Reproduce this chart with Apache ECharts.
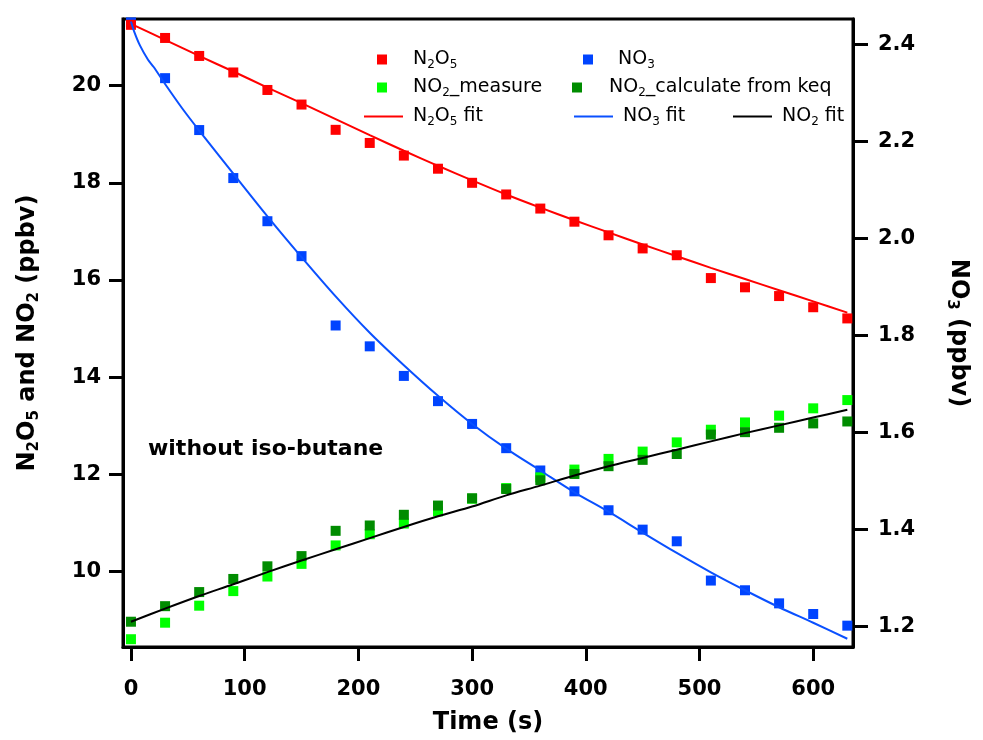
<!DOCTYPE html>
<html><head><meta charset="utf-8">
<script src="https://cdn.jsdelivr.net/npm/echarts@6/dist/echarts.min.js"></script>
<style>html,body{margin:0;padding:0;background:#fff}#c{width:983px;height:740px}</style>
</head><body><div id="c"></div>
<script>
// ---- data ----
const time = [0,30,60,90,120,150,180,210,240,270,300,330,360,390,420,450,480,510,540,570,600,630];
const n2o5 = [21.25,20.98,20.61,20.27,19.91,19.61,19.09,18.82,18.56,18.29,18.00,17.76,17.47,17.20,16.92,16.65,16.51,16.04,15.85,15.67,15.44,15.21];
const no3 = [2.445,2.330,2.223,2.124,2.035,1.963,1.820,1.777,1.716,1.664,1.617,1.567,1.521,1.478,1.439,1.399,1.375,1.294,1.274,1.247,1.225,1.201];
const no2Measure = [8.61,8.95,9.30,9.60,9.90,10.16,10.54,10.77,10.99,11.24,11.50,11.72,11.94,12.10,12.32,12.47,12.66,12.92,13.07,13.21,13.36,13.53];
const no2Calc = [8.97,9.29,9.58,9.85,10.11,10.32,10.84,10.95,11.17,11.36,11.51,11.70,11.88,12.01,12.17,12.30,12.42,12.82,12.87,12.96,13.05,13.09];

const fitTime = [0,30,60,90,120,150,180,210,240,270,300,330,360,390,420,450,480,510,540,570,600,630];
const n2o5Fit = [21.27,20.94,20.61,20.29,19.96,19.64,19.31,18.98,18.66,18.35,18.05,17.76,17.49,17.23,16.98,16.73,16.49,16.25,16.02,15.79,15.56,15.33];
const no2Fit = [8.97,9.24,9.50,9.74,9.99,10.23,10.46,10.69,10.92,11.14,11.34,11.57,11.77,11.98,12.17,12.34,12.51,12.68,12.85,13.01,13.17,13.33];
const no3FitTime = [0,3,8,15,20,30,45,60,90,120,150,180,210,240,270,300,330,360,390,420,450,480,510,540,570,600,630];
const no3Fit = [2.447,2.425,2.397,2.368,2.353,2.318,2.268,2.222,2.133,2.045,1.961,1.880,1.805,1.738,1.675,1.617,1.566,1.521,1.476,1.436,1.393,1.351,1.311,1.274,1.239,1.207,1.174];

const xTicks = [0,100,200,300,400,500,600];
const leftTicks = [10,12,14,16,18,20];
const rightTicks = [1.2,1.4,1.6,1.8,2.0,2.2,2.4];

// ---- chart ----
const FONT = 'DejaVu Sans';
const pairs = (xs, ys) => xs.map((x, i) => [x, ys[i]]);
const subRich = (size, bold) => ({
  a: {fontFamily: FONT, fontSize: size, fontWeight: bold ? 'bold' : 'normal', color: '#000', lineHeight: size + 4},
  b: {fontFamily: FONT, fontSize: Math.round(size * 0.62), fontWeight: bold ? 'bold' : 'normal', color: '#000', lineHeight: Math.round(size * 0.62) + 1, verticalAlign: 'bottom'}
});
const legendLabels = {
  'N2O5': '{a|N}{b|2}{a|O}{b|5}',
  'NO3': '{a|NO}{b|3}',
  'NO2_measure': '{a|NO}{b|2}{a|_measure}',
  'NO2_calculate from keq': '{a|NO}{b|2}{a|_calculate from keq}',
  'N2O5 fit': '{a|N}{b|2}{a|O}{b|5}{a| fit}',
  'NO3 fit': '{a|NO}{b|3}{a| fit}',
  'NO2 fit': '{a|NO}{b|2}{a| fit}'
};
const SQ = 'path://M0,0L10,0L10,10L0,10Z';
const LN = 'path://M0,0L40,0L40,2L0,2Z';
function mkLegend(name, left, top, w, marker) {
  return {
    data: [name], left: left, top: top, padding: 0, itemWidth: w, itemHeight: marker ? 10 : 14,
    selectedMode: false,
    icon: marker ? SQ : LN,
    formatter: n => legendLabels[n],
    textStyle: {rich: subRich(19, false), padding: marker ? 0 : [0, 0, 0, 5]}
  };
}

const chart = echarts.init(document.getElementById('c'));
chart.setOption({
  animation: false,
  backgroundColor: '#fff',
  grid: {left: 123, right: 130, top: 19, bottom: 92, show: true, borderColor: '#000', borderWidth: 3},
  legend: [
    mkLegend('N2O5', 377, 50, 52, true),
    mkLegend('NO3', 583, 50, 50, true),
    mkLegend('NO2_measure', 377, 78, 52, true),
    mkLegend('NO2_calculate from keq', 572, 78, 54, true),
    mkLegend('N2O5 fit', 364, 107, 39, false),
    mkLegend('NO3 fit', 574, 107, 39, false),
    mkLegend('NO2 fit', 733, 107, 39, false)
  ],
  xAxis: {
    type: 'value', min: -7, max: 635,
    name: 'Time (s)', nameLocation: 'middle', nameGap: 64,
    nameTextStyle: {fontFamily: FONT, fontSize: 24, fontWeight: 'bold', color: '#000'},
    axisLine: {show: true, onZero: false, lineStyle: {color: '#000', width: 3}},
    axisTick: {show: true, length: 14, lineStyle: {color: '#000', width: 3}, customValues: xTicks},
    axisLabel: {fontFamily: FONT, fontSize: 21, fontWeight: 'bold', color: '#000', margin: 32, customValues: xTicks},
    splitLine: {show: false}
  },
  yAxis: [{
    type: 'value', position: 'left', min: 8.45, max: 21.37,
    name: '{a|N}{b|2}{a|O}{b|5}{a| and NO}{b|2}{a| (ppbv)}', nameLocation: 'middle', nameGap: 81, nameRotate: 90,
    nameTextStyle: {rich: subRich(24, true)},
    axisLine: {show: true, onZero: false, lineStyle: {color: '#000', width: 3}},
    axisTick: {show: true, length: 14, lineStyle: {color: '#000', width: 3}, customValues: leftTicks},
    axisLabel: {fontFamily: FONT, fontSize: 21, fontWeight: 'bold', color: '#000', margin: 22, customValues: leftTicks},
    splitLine: {show: false}
  }, {
    type: 'value', position: 'right', min: 1.157, max: 2.452,
    name: '{a|NO}{b|3}{a| (ppbv)}', nameLocation: 'middle', nameGap: 91, nameRotate: -90,
    nameTextStyle: {rich: subRich(24, true)},
    axisLine: {show: true, onZero: false, lineStyle: {color: '#000', width: 3}},
    axisTick: {show: true, length: 15, lineStyle: {color: '#000', width: 3}, customValues: rightTicks},
    axisLabel: {fontFamily: FONT, fontSize: 21, fontWeight: 'bold', color: '#000', margin: 25, customValues: rightTicks,
      formatter: v => Number(v).toFixed(1)},
    splitLine: {show: false}
  }],
  graphic: [{
    type: 'text', left: 148, top: 438, silent: true,
    style: {text: 'without iso-butane', font: 'bold 22px "DejaVu Sans"', fill: '#000'}
  }],
  series: [
    {name: 'NO3', type: 'scatter', yAxisIndex: 1, symbol: 'rect', symbolSize: 10, itemStyle: {color: '#0044ff', opacity: 1}, data: pairs(time, no3), z: 2},
    {name: 'N2O5', type: 'scatter', yAxisIndex: 0, symbol: 'rect', symbolSize: 10, itemStyle: {color: '#ff0000', opacity: 1}, data: pairs(time, n2o5), z: 2},
    {name: 'NO2_measure', type: 'scatter', yAxisIndex: 0, symbol: 'rect', symbolSize: 10, itemStyle: {color: '#00ff00', opacity: 1}, data: pairs(time, no2Measure), z: 2},
    {name: 'NO2_calculate from keq', type: 'scatter', yAxisIndex: 0, symbol: 'rect', symbolSize: 10, itemStyle: {color: '#008c00', opacity: 1}, data: pairs(time, no2Calc), z: 2},
    {name: 'N2O5 fit', type: 'line', yAxisIndex: 0, symbol: 'none', smooth: 0.3, lineStyle: {color: '#ff0000', width: 2}, itemStyle: {color: '#ff0000'}, data: pairs(fitTime, n2o5Fit), z: 3},
    {name: 'NO3 fit', type: 'line', yAxisIndex: 1, symbol: 'none', smooth: 0.3, lineStyle: {color: '#0a50ff', width: 2}, itemStyle: {color: '#0a50ff'}, data: pairs(no3FitTime, no3Fit), z: 3},
    {name: 'NO2 fit', type: 'line', yAxisIndex: 0, symbol: 'none', smooth: 0.3, lineStyle: {color: '#000', width: 2}, itemStyle: {color: '#000'}, data: pairs(fitTime, no2Fit), z: 3}
  ]
});
</script></body></html>
